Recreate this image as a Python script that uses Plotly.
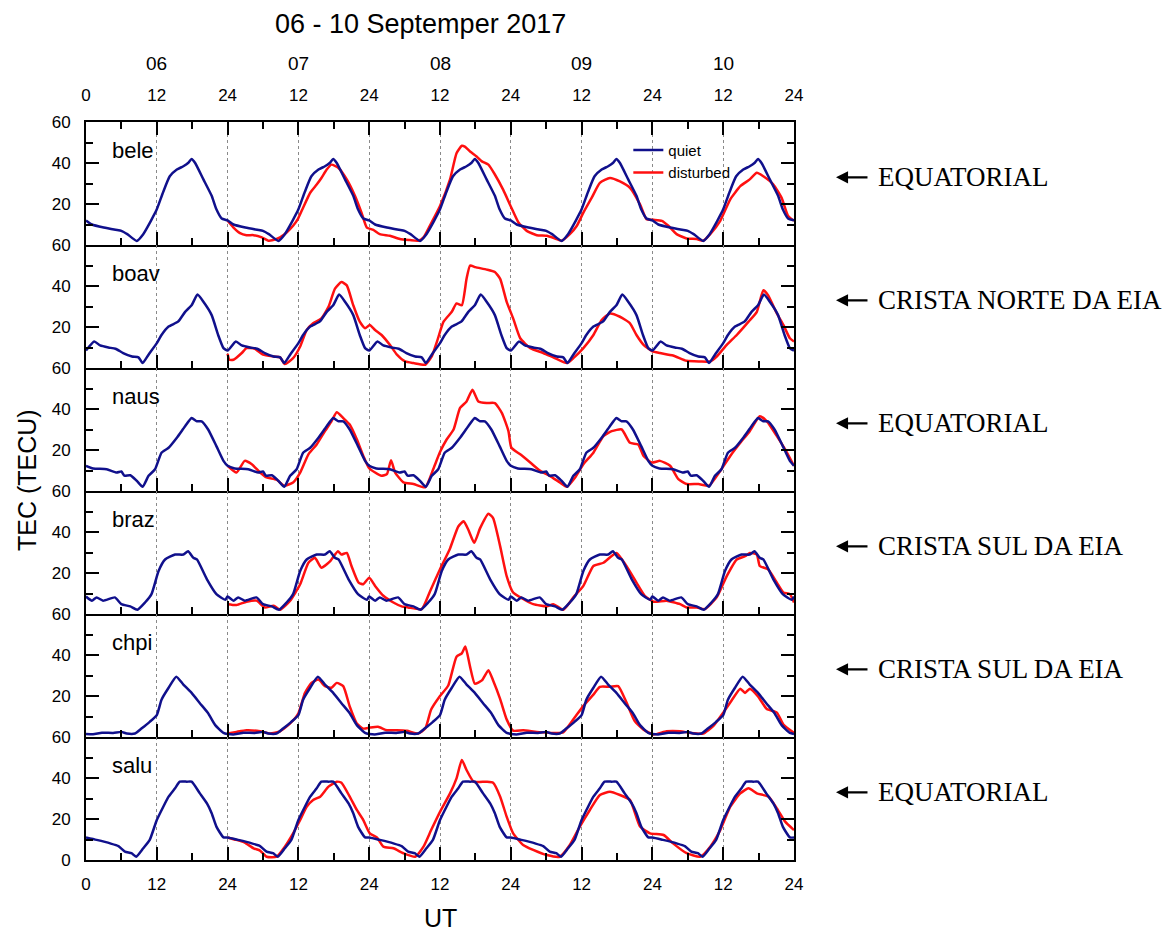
import plotly.graph_objects as go

# ---------------------------------------------------------------- data
STATIONS = ["bele", "boav", "naus", "braz", "chpi", "salu"]
REGIONS = ["EQUATORIAL", "CRISTA NORTE DA EIA", "EQUATORIAL",
           "CRISTA SUL DA EIA", "CRISTA SUL DA EIA", "EQUATORIAL"]
DAYS = ["06", "07", "08", "09", "10"]
DAY_CENTRES = [12, 36, 60, 84, 108]
HOUR_TICKS = [0, 12, 24, 36, 48, 60, 72, 84, 96, 108, 120]
HOUR_LABELS = ["0", "12", "24", "12", "24", "12", "24", "12", "24", "12", "24"]
TEC_TICKS = [0, 20, 40, 60]

# quiet-day reference curves (hour of day, TECU), one per station
BELE_QT = [0, 1, 3, 5, 6, 7, 8.6, 9.7, 11, 12, 13.1, 14.2, 15.4, 16.5, 17.3, 17.9, 18.5, 19.9, 21.3, 22.1, 23, 24]
BELE_QV = [12, 10, 8.5, 7.4, 6.9, 5.3, 2, 5.3, 11.8, 17.4, 26, 33.5, 36.8, 38.4, 40, 42, 40, 32, 24, 17.4, 12.9, 12]
BOAV_QT = [0, 1.4, 2.4, 3.8, 5, 6.3, 7.8, 8.9, 9.6, 10.6, 12, 12.8, 14, 15.6, 16.8, 17.9, 18.9, 19.9, 21.3, 22.4, 23.3, 24]
BOAV_QV = [8.5, 12.9, 11, 10, 9.4, 7.3, 5.6, 5.2, 2.4, 6.5, 12.1, 16.1, 20.2, 22.6, 27.4, 30.6, 35.8, 32.3, 25.8, 16.1, 9.7, 8.5]
NAUS_QT = [0, 1.2, 3.5, 5.2, 6, 6.5, 7.5, 8.6, 9.6, 10.6, 11.7, 12.8, 14, 15.4, 16.8, 17.9, 18.8, 19.6, 20.7, 22.1, 23.3, 24]
NAUS_QV = [12.3, 11, 10.6, 9, 9.5, 7.5, 7.7, 5, 2.1, 7.4, 10.6, 18.7, 21.1, 26, 31.6, 35.6, 34, 34, 30, 21.9, 14.7, 12.3]
BRAZ_QT = [0, 1, 1.8, 2.9, 4.9, 6, 7.5, 8.7, 10, 11.1, 12.3, 13.4, 15.1, 16.5, 17.3, 18.2, 18.8, 20.5, 22.1, 23.6, 24]
BRAZ_QV = [8.5, 6.5, 8.1, 6.5, 8.1, 4.8, 3.7, 2.1, 5.6, 9.7, 21, 26.6, 29, 29, 30.6, 27.4, 26.6, 16.9, 9.7, 6.9, 8.5]
CHPI_QT = [0, 1.2, 2.7, 4.6, 6, 6.9, 8.3, 9.4, 10.8, 12, 12.8, 14, 15.3, 16.5, 17.9, 19.3, 20.7, 21.9, 23.3, 24]
CHPI_QV = [1.5, 1.3, 2.1, 2, 2.5, 1.7, 1.7, 4.1, 7.4, 10.7, 18.2, 24, 29.4, 25.6, 21.5, 16.5, 11.6, 5.8, 2, 1.5]
SALU_QT = [0, 1.8, 4.1, 5.5, 6.6, 7.7, 8.5, 9.7, 10.8, 12, 13.1, 14, 15.1, 15.9, 17.1, 17.9, 19.3, 20.5, 21.3, 22.1, 23.3, 24]
SALU_QV = [11, 9.8, 8.1, 6.8, 4.1, 3.3, 1.6, 5.7, 9.8, 19.5, 26, 30.9, 35, 38.2, 38.2, 38.2, 32.5, 27.6, 22.8, 16.3, 11, 11]

# disturbed days 07-10 (hours since 06 Sep 00 UT, TECU)
BELE_DT = [24, 25, 26.1, 27.2, 28.4, 29.8, 30.9, 32.3, 32.9, 34, 35.1, 35.9, 36.8, 38, 39.1, 39.9, 40.8, 41.6, 42.8, 44.2,
           45.6, 46.7, 47.6, 48.7, 49.8, 51.5, 53.2, 54.9, 56.3, 57.2, 58.3, 60, 61.7, 62.8, 63.7, 64.2, 65.1, 66.2, 67.1,
           68.2, 69.3, 70.7, 72.1, 73.3, 74.7, 76.4, 78.1, 79.5, 80.6, 82, 83.2, 84.3, 85.7, 87.1, 88.8, 90.5, 92.2, 93.9,
           95, 96.2, 97.6, 98.7, 100.1, 101.8, 103.5, 104.6, 105.8, 107.5, 109.2, 110.9, 112.5, 113.7, 114.8, 116.5,
           117.9, 119, 120]
BELE_DV = [11.8, 8.5, 5.8, 4.8, 4.8, 3.7, 2.1, 2.9, 3.7, 6.1, 9.4, 12.6, 18.2, 25.5, 29.5, 32.7, 36.8, 39.2, 37.6, 32,
           23.9, 15.8, 8.5, 7.4, 5.3, 4.5, 2.9, 2.4, 2.1, 3.7, 9.5, 19, 32, 44.8, 48.4, 48, 45.6, 43.2, 40.8,
           39.2, 34.4, 27, 18.2, 11, 6.9, 4.8, 4.5, 3.2, 2.1, 5.3, 9.4, 15.8, 23, 30.3, 32.7, 31, 27.9, 19.8,
           12.6, 12.3, 11.8, 9.4, 5.3, 3.2, 2.9, 2.1, 5.3, 11.8, 22.3, 28.7, 32, 35.2, 33.5, 29.5,
           23, 14.2, 11.8]
BOAV_DT = [24, 24.3, 25, 26.4, 27.2, 28.6, 30, 31.8, 32.9, 33.7, 35.1, 36.3, 37.4, 38.5, 39.9, 41.1, 42.2, 43.3, 44.2,
           45.3, 46.4, 47.3, 48.1, 49, 50.1, 51.5, 52.7, 54.1, 55.5, 57.5, 58.6, 59.5, 60.6, 62, 62.8, 63.7, 64.5, 65.1,
           66, 67.9, 69.3, 70.2, 71.3, 72.4, 73.6, 75.3, 77.5, 79.2, 81.5, 82.6, 84.3, 86, 87.4, 88.8, 90.5, 92.2, 93.3,
           94.5, 96, 97.3, 99.5, 101.8, 104.1, 105.8, 106.9, 108.6, 110.3, 112.3, 113.7, 114.8, 115.6, 117.1, 118.2,
           119.3, 120]
BOAV_DV = [7, 4, 4, 7.3, 9.7, 9.4, 6.5, 5.6, 5.2, 1.9, 4.8, 10.5, 18.5, 21.8, 24.2, 29.8, 38.7, 41.9, 40.3,
           30.6, 22.6, 19.4, 21, 18.5, 16.1, 11.3, 6.5, 3.2, 2.4, 1.6, 5.6, 13, 22.6, 27.4, 31.5, 30.6, 43.5, 50,
           49.2, 48, 46.8, 43.5, 32.3, 24.2, 14.5, 9.7, 7.3, 5.2, 2.4, 4.8, 9.7, 16.1, 23.4, 26.6, 25, 21.8, 16.1,
           11.3, 8.1, 7.3, 6.1, 3.5, 3.2, 3.2, 5.6, 11.3, 16.1, 22.6, 27.4, 37.9, 35.5, 26.6, 21,
           14.5, 12.9]
NAUS_DT = [24, 25.5, 26.9, 28.1, 29.5, 30.6, 32.3, 33.6, 35.1, 36.3, 37.7, 39.1, 40.5, 41.6, 42.5, 43.6, 44.7, 45.9, 47,
           47.9, 49, 50.1, 51, 51.7, 52.4, 53.8, 55.5, 57.5, 58.9, 60, 61.1, 62.3, 63.4, 64.5, 65.5, 66.5, 67.9, 69.3,
           70.5, 71.6, 72.1, 73.6, 75.3, 77, 78.6, 80.3, 81.5, 82.9, 84.3, 86, 87.7, 89.1, 90.8, 92.2, 93.6, 94.5, 95.9,
           97.3, 99, 100.4, 101.8, 103.8, 105.6, 107.5, 109.2, 110.9, 112.5, 114.2, 115.4, 117.1, 118.5, 120]
NAUS_DV = [12.3, 9, 14.7, 13.1, 9, 6.6, 5.5, 2.6, 4.2, 9, 17.9, 22.7, 29.2, 34, 38.4, 35.6, 32.4, 25.2, 17.1,
           11.5, 9, 7.4, 8.2, 15, 9, 4.2, 3.4, 1.8, 11, 19, 25, 30, 40.5, 43.7, 49.4, 43.7, 42.9, 42.9,
           38, 29.2, 21.1, 17.9, 13.9, 9.8, 7.4, 4.2, 2.1, 6.6, 13.1, 18.7, 26.8, 29.2, 30, 23.5, 22.7, 17.1, 13.9,
           14.7, 12.3, 5.8, 3.4, 3.4, 2.6, 9.8, 17.1, 23.5, 29.2, 36.5, 34, 26.8, 20.3, 12.3]
BRAZ_DT = [24, 25.5, 27.2, 28.9, 30.3, 31.8, 32.9, 34.6, 36.3, 37.7, 38.8, 39.9, 41.4, 42.7, 43.3, 44.2, 45, 46.2, 47,
           48, 49, 50.4, 52.1, 53.5, 54.6, 56.9, 58.3, 60, 61.7, 63.1, 64, 64.8, 65.8, 66.8, 68.2, 69, 70.2, 71.3,
           72.4, 74.1, 75.8, 78.1, 79.2, 80.9, 82.6, 84.3, 86, 87.7, 89.9, 91.6, 93.3, 94.7, 96.2, 98.4, 100.7, 101.8,
           103.5, 104.9, 106.9, 108.6, 110.3, 111.7, 112.5, 113.7, 114.2, 115.6, 117.1, 118.2, 119.3, 120]
BRAZ_DV = [4.8, 4.4, 6, 6.5, 3.2, 4, 2.1, 6.5, 14.5, 25, 27.4, 22.6, 25.8, 30.6, 29, 29.8, 23.4, 15.3, 14.5,
           17.7, 13.7, 8.9, 5.6, 3.7, 3.2, 2.4, 11, 21.8, 32, 42.7, 45.2, 41.1, 34.7, 41.9, 48.9, 46.8, 33, 18.5,
           10.5, 7.3, 4.8, 3.7, 4.8, 2.1, 8.1, 13.7, 23.4, 25, 29.8, 23.4, 15.3, 8.9, 6, 6.5, 4.8, 3.2,
           3.2, 2.4, 8.1, 18.5, 26.6, 28.2, 29.8, 29, 23.4, 21.8, 15.3, 10.5, 9.7, 5.6]
CHPI_DT = [24, 25.5, 27.2, 29.5, 31.2, 32.9, 34.6, 36, 37.1, 38.2, 39.4, 40.5, 41.6, 42.5, 43.6, 44.7, 45.9, 47, 48.1,
           49.5, 51, 52.7, 54.4, 56.3, 57.5, 58.5, 60, 61.4, 62.8, 63.7, 64.3, 65.1, 65.9, 67.1, 68.2, 69, 70.2, 71.3,
           72.4, 74.1, 76.4, 79.2, 80.9, 82.6, 84.3, 86, 87.1, 88.8, 90.2, 91.6, 93, 94.5, 96.2, 98.4, 100.7, 102.4,
           104.6, 106.3, 108, 109.4, 110.9, 111.7, 112.5, 113.9, 115.4, 117.1, 118.2, 120]
CHPI_DV = [1.7, 2.5, 3.3, 2.8, 1.7, 2.8, 6.6, 11.6, 21.5, 26.4, 28, 24.8, 24, 26.4, 24.8, 14.9, 6.6, 4.1, 4.6,
           5, 3.3, 3.3, 3, 1.7, 4.1, 13.4, 20, 25.1, 39.2, 40.8, 44.1, 34.2, 26, 27.6, 32.6, 27.6, 18.5, 8.6,
           3.1, 3.3, 2.5, 2, 2.3, 8.6, 15.2, 20.7, 24.5, 24.5, 24.8, 16.9, 7.8, 3.6, 1.2, 2.8, 2.8, 2,
           1.7, 5.3, 11.9, 17.7, 23.5, 21.5, 23.5, 19.8, 13.6, 11.9, 6.1, 2]
SALU_DT = [24, 25.5, 26.9, 28.4, 29.5, 30.6, 32.3, 33.7, 35.1, 36.3, 37.4, 38.5, 39.7, 41.1, 42.5, 43.3, 44.7, 45.9, 47,
           48.1, 49.3, 50.4, 52.1, 53.8, 55.8, 57.2, 58.5, 60, 61.7, 62.8, 63.7, 64.5, 65.7, 67.9, 69, 70.2, 71.3, 72.4,
           74.1, 75.8, 78.1, 80.3, 82, 83.7, 85.4, 87.1, 88.8, 90.5, 92.2, 93.9, 95.6, 97.9, 99.5, 101.8, 104.1, 105.8,
           107.5, 109.2, 110.9, 112.3, 113.7, 115.7, 117.1, 118.5, 120]
SALU_DV = [11, 9.8, 8.5, 5.7, 4.6, 1.6, 1.6, 6.5, 13, 19.5, 26, 29.3, 30.9, 35.8, 38.2, 37.7, 30.9, 24.4, 19.5,
           13, 11, 6.5, 5.7, 3.3, 1.6, 6.5, 14.6, 23.5, 32.5, 39.8, 48.8, 43.9, 38.2, 38.2, 37.7, 30.9, 21.1, 13,
           7.3, 4.9, 2.4, 1.6, 7.3, 16.3, 24.4, 31.7, 33.3, 31.7, 29.3, 16.3, 13, 12.2, 8.1, 3.3, 1.6, 6.5,
           14.6, 26, 32.5, 35, 32.5, 30.9, 25.2, 18.7, 14.6]

QUIET = [(BELE_QT, BELE_QV), (BOAV_QT, BOAV_QV), (NAUS_QT, NAUS_QV),
         (BRAZ_QT, BRAZ_QV), (CHPI_QT, CHPI_QV), (SALU_QT, SALU_QV)]
DISTURBED = [(BELE_DT, BELE_DV), (BOAV_DT, BOAV_DV), (NAUS_DT, NAUS_DV),
             (BRAZ_DT, BRAZ_DV), (CHPI_DT, CHPI_DV), (SALU_DT, SALU_DV)]

QUIET_COLOR = "#10108c"
DIST_COLOR = "#ff1010"
SANS = "Liberation Sans, Arial, sans-serif"
SERIF = "Liberation Serif, Times New Roman, serif"


def repeat_daily(hours, values, ndays=len(DAYS)):
    """Lay the quiet-day curve end to end over every day of the window."""
    xs, ys = [], []
    for d in range(ndays):
        for k, (h, v) in enumerate(zip(hours, values)):
            if d > 0 and k == 0:
                continue
            xs.append(24 * d + h)
            ys.append(v)
    return xs, ys


fig = go.Figure()
n = len(STATIONS)
layout = {}
annotations = []

for i, name in enumerate(STATIONS):
    sfx = "" if i == 0 else str(i + 1)
    xref, yref = "x" + sfx, "y" + sfx

    dt, dv = DISTURBED[i]
    fig.add_trace(go.Scatter(x=dt, y=dv, mode="lines", name="disturbed",
                             line=dict(color=DIST_COLOR, width=2.5,
                                       shape="spline", smoothing=0.5),
                             xaxis=xref, yaxis=yref, showlegend=(i == 0),
                             legendrank=2))
    qx, qy = repeat_daily(*QUIET[i])
    fig.add_trace(go.Scatter(x=qx, y=qy, mode="lines", name="quiet",
                             line=dict(color=QUIET_COLOR, width=2.5,
                                       shape="spline", smoothing=0.5),
                             xaxis=xref, yaxis=yref, showlegend=(i == 0),
                             legendrank=1))

    top = 1 - i / n
    bottom = 1 - (i + 1) / n
    layout["xaxis" + sfx] = dict(
        domain=[0, 1], anchor=yref, range=[0, 120],
        showline=True, linecolor="black", linewidth=2,
        ticks="inside", ticklen=13, tickwidth=2, tickcolor="black",
        tickvals=HOUR_TICKS, ticktext=HOUR_LABELS,
        showticklabels=(i == n - 1), ticklabelstandoff=8,
        tickfont=dict(family=SANS, size=17, color="black"),
        showgrid=True, gridcolor="#8a8a8a", gridwidth=1, griddash="dot",
        minor=dict(ticks="inside", ticklen=7, tickwidth=2, tickcolor="black",
                   dtick=6, tick0=0, showgrid=False),
        zeroline=False,
    )
    layout["yaxis" + sfx] = dict(
        domain=[bottom, top], anchor=xref, range=[0, 60],
        showline=True, linecolor="black", linewidth=2, mirror="ticks",
        ticks="inside", ticklen=13, tickwidth=2, tickcolor="black",
        tickvals=TEC_TICKS,
        ticktext=[str(v) if (v > 0 or i == n - 1) else "" for v in TEC_TICKS],
        ticklabelstandoff=10,
        tickfont=dict(family=SANS, size=17, color="black"),
        minor=dict(ticks="inside", ticklen=7, tickwidth=2, tickcolor="black",
                   dtick=10, tick0=0, showgrid=False),
        showgrid=False, zeroline=False,
    )

    # station name inside each panel
    annotations.append(dict(text=name, x=4, y=46, xref=xref, yref=yref,
                            xanchor="left", yanchor="middle", showarrow=False,
                            font=dict(family=SANS, size=22, color="black")))
    # region label with arrow on the right
    annotations.append(dict(text="", x=1.0593, y=0.55, xref="paper",
                            yref=yref + " domain", showarrow=True,
                            ax=33, ay=0, arrowhead=2, arrowsize=1.1,
                            arrowwidth=2.2, arrowcolor="black"))
    annotations.append(dict(text=REGIONS[i], x=1.1158, y=0.55, xref="paper",
                            yref=yref + " domain", xanchor="left",
                            yanchor="middle", showarrow=False,
                            font=dict(family=SERIF, size=27, color="black")))

# hour labels along the top of the first panel
layout["xaxis7"] = dict(
    overlaying="x", anchor="y", side="top", range=[0, 120],
    showline=True, linecolor="black", linewidth=2,
    ticks="inside", ticklen=13, tickwidth=2, tickcolor="black",
    tickvals=HOUR_TICKS, ticktext=HOUR_LABELS, ticklabelstandoff=12,
    tickfont=dict(family=SANS, size=17, color="black"),
    minor=dict(ticks="inside", ticklen=7, tickwidth=2, tickcolor="black",
               dtick=6, tick0=0, showgrid=False),
    showgrid=False, zeroline=False,
)
fig.add_trace(go.Scatter(x=[0, 120], y=[None, None], mode="lines",
                         xaxis="x7", yaxis="y", showlegend=False,
                         hoverinfo="skip"))

# day-of-month labels
for day, centre in zip(DAYS, DAY_CENTRES):
    annotations.append(dict(text=day, x=centre, y=1.0786, xref="x", yref="paper",
                            showarrow=False, xanchor="center", yanchor="middle",
                            font=dict(family=SANS, size=19, color="black")))

annotations += [
    dict(text="06 - 10 Septemper 2017", x=0.473, y=1.1328, xref="paper",
         yref="paper", showarrow=False, xanchor="center", yanchor="middle",
         font=dict(family=SANS, size=27, color="black")),
    dict(text="TEC (TECU)", x=-0.0833, y=0.515, xref="paper", yref="paper",
         showarrow=False, textangle=-90, xanchor="center", yanchor="middle",
         font=dict(family=SANS, size=25, color="black")),
    dict(text="UT", x=0.5, y=-0.0786, xref="paper", yref="paper",
         showarrow=False, xanchor="center", yanchor="middle",
         font=dict(family=SANS, size=25, color="black")),
]

fig.update_layout(
    **layout,
    width=1175, height=934, autosize=False,
    margin=dict(l=86, r=381, t=122, b=74),
    paper_bgcolor="white", plot_bgcolor="white",
    annotations=annotations,
    legend=dict(x=0.766, y=0.984, xanchor="left", yanchor="top",
                bgcolor="rgba(0,0,0,0)", font=dict(family=SANS, size=15, color="black"),
                tracegroupgap=0, itemwidth=30),
    showlegend=True,
)

fig.write_html("out.html")
